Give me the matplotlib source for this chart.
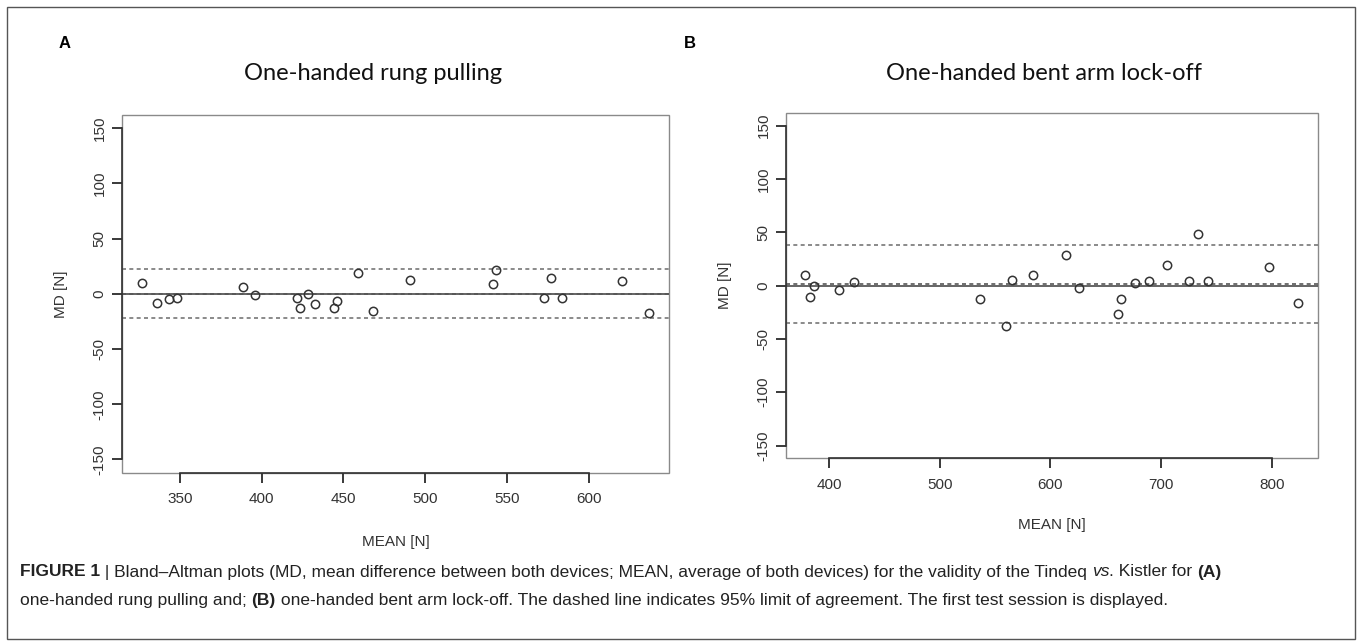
import numpy as np
import matplotlib
matplotlib.use('Agg')
import matplotlib.pyplot as plt
from matplotlib.patches import Rectangle

# panel A: one-handed rung pulling
mean_a = [326.8, 335.8, 343.5, 348.2, 388.7, 395.6, 421.5, 423.1, 428.2, 432.5, 445.9,
          444.4, 459.1, 468.2, 490.8, 543.3, 541.3, 576.9, 572.5, 583.4, 620.1, 636.7]
md_a = [10.0, -8.2, -4.5, -4.0, 6.6, -0.6, -4.0, -12.7, -0.3, -9.4, -6.1,
        -13.0, 19.3, -15.1, 12.7, 21.7, 8.7, 14.1, -4.0, -4.0, 11.4, -17.2]
bias_a = 0.1
loa_a = [-22.1, 22.6]
xticks_a = [350, 400, 450, 500, 550, 600]

# panel B: one-handed bent arm lock-off
mean_b = [378.8, 383.1, 386.7, 408.8, 423.0, 536.4, 560.3, 565.5, 584.2, 613.6, 625.4,
          664.0, 661.0, 676.7, 689.2, 705.2, 724.6, 733.6, 742.1, 797.0, 823.5]
md_b = [9.4, -10.6, -0.7, -4.4, 3.4, -12.2, -37.5, 5.2, 10.3, 28.7, -2.8,
        -12.8, -26.9, 2.2, 4.0, 19.0, 4.0, 48.7, 4.0, 17.1, -16.6]
bias_b = 1.2
loa_b = [-35.6, 38.4]
xticks_b = [400, 500, 600, 700, 800]

yticks = [-150, -100, -50, 0, 50, 100, 150]

plt.rcParams['font.family'] = ['Liberation Sans', 'DejaVu Sans']
plt.rcParams['axes.unicode_minus'] = False
for a in ['xtick', 'ytick']:
    plt.rcParams[a + '.major.size'] = 7
    plt.rcParams[a + '.major.width'] = 1.3
    plt.rcParams[a + '.color'] = '#2a2a2a'
    plt.rcParams[a + '.direction'] = 'out'
    plt.rcParams[a + '.labelsize'] = 11
    plt.rcParams[a + '.labelcolor'] = '#333333'

W, H = 1357, 641
fig = plt.figure(figsize=(W / 100, H / 100), dpi=100)

def px_rect(l, r, t, b):
    return [l / W, 1 - b / H, (r - l) / W, (b - t) / H]

def bland_altman(ax, x, y, bias, loa, xticks):
    lo, hi = min(x), max(x)
    pad = 0.04 * (hi - lo)
    ax.set_xlim(lo - pad, hi + pad)
    ax.set_ylim(-162, 162)
    ax.axhline(0, color='#3a3a3a', lw=1.1, zorder=1)
    ax.axhline(bias, color='#555555', lw=1.2, ls=(0, (2.4, 2)), zorder=2)
    for v in loa:
        ax.axhline(v, color='#777777', lw=1.2, ls=(0, (2.4, 2)), zorder=2)
    ax.plot(x, y, 'o', mfc='none', mec='#333333', ms=6, mew=1.1, zorder=3)
    ax.set_xticks(xticks)
    ax.set_yticks(yticks)
    ax.spines['bottom'].set_bounds(xticks[0], xticks[-1])
    ax.spines['left'].set_bounds(yticks[0], yticks[-1])
    for s in ['top', 'right']:
        ax.spines[s].set_visible(False)
    for s in ['bottom', 'left']:
        ax.spines[s].set_color('#333333')
        ax.spines[s].set_linewidth(1.2)
    ax.add_patch(Rectangle((0, 0), 1, 1, transform=ax.transAxes, fill=False,
                           ec='#8a8a8a', lw=1.0, clip_on=False, zorder=0))
    ax.tick_params(axis='x', pad=7)
    ax.tick_params(axis='y', pad=4)
    for t in ax.get_yticklabels():
        t.set_rotation(90)
        t.set_va('center')
    ax.set_xlabel('MEAN [N]', fontsize=11, color='#333333')
    ax.set_ylabel('MD [N]', fontsize=11, color='#333333')

ax_a = fig.add_axes(px_rect(121.8, 669, 115, 472.7))
bland_altman(ax_a, mean_a, md_a, bias_a, loa_a, xticks_a)
ax_a.xaxis.set_label_coords(0.5, -69 / 357.7)
ax_a.xaxis.label.set_va('center')
ax_a.yaxis.set_label_coords(-61 / 547.2, 0.5)
ax_a.yaxis.label.set_va('center')

ax_b = fig.add_axes(px_rect(785.7, 1317.8, 112.7, 458.3))
bland_altman(ax_b, mean_b, md_b, bias_b, loa_b, xticks_b)
ax_b.xaxis.set_label_coords(0.5, -66.7 / 345.6)
ax_b.xaxis.label.set_va('center')
ax_b.yaxis.set_label_coords(-61 / 532.1, 0.5)
ax_b.yaxis.label.set_va('center')

# panel letters and titles
fig.text(64.7 / W, 1 - 43.3 / H, 'A', fontsize=12, fontweight='bold', ha='center', va='center')
fig.text(689.7 / W, 1 - 43.3 / H, 'B', fontsize=12, fontweight='bold', ha='center', va='center')
fig.text(372.8 / W, 1 - 73.3 / H, 'One-handed rung pulling', fontsize=17,
         family=['Lato', 'DejaVu Sans'], ha='center', va='center', color='#111111')
fig.text(1044 / W, 1 - 73.3 / H, 'One-handed bent arm lock-off', fontsize=17,
         family=['Lato', 'DejaVu Sans'], ha='center', va='center', color='#111111')

# outer frame
fig.patches.append(Rectangle((6.7 / W, 1 - 639 / H), (1355 - 6.7) / W, (639 - 6.7) / H,
                             transform=fig.transFigure, fill=False, ec='#555555', lw=1.0))

# caption with mixed styles, laid out run by run
renderer = fig.canvas.get_renderer()

def put_runs(x_px, y_px, runs):
    x = x_px
    for txt, weight, style in runs:
        t = fig.text(x / W, 1 - y_px / H, txt, fontsize=12.5, fontweight=weight,
                     fontstyle=style, ha='left', va='center', color='#222222')
        x = t.get_window_extent(renderer).x1

cap1 = [('FIGURE 1', 'bold', 'normal'),
        (' | Bland\u2013Altman plots (MD, mean difference between both devices; MEAN, average of both devices) for the validity of the Tindeq ', 'normal', 'normal'),
        ('vs', 'normal', 'italic'),
        ('. Kistler for ', 'normal', 'normal'),
        ('(A)', 'bold', 'normal')]
cap2 = [('one-handed rung pulling and; ', 'normal', 'normal'),
        ('(B)', 'bold', 'normal'),
        (' one-handed bent arm lock-off. The dashed line indicates 95% limit of agreement. The first test session is displayed.', 'normal', 'normal')]
put_runs(20, 572, cap1)
put_runs(20, 601, cap2)

fig.savefig('out.png', dpi=100)
